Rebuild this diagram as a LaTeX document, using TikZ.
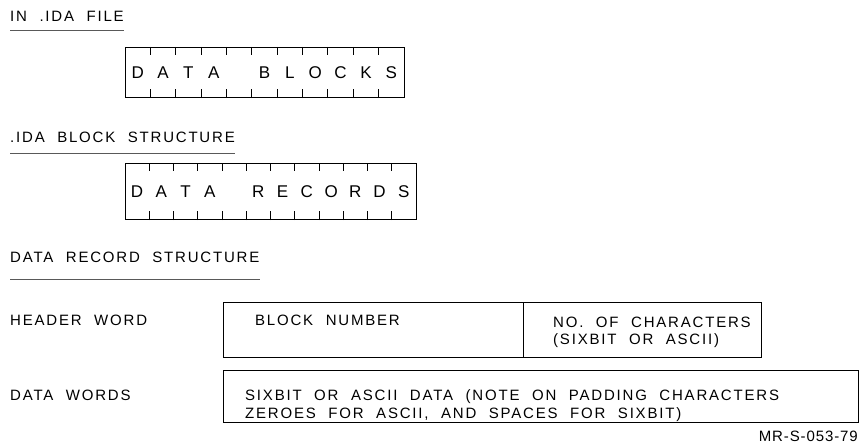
\documentclass[tikz,border=0pt]{standalone}
\usepackage{fontspec}
\setmainfont{Liberation Sans}[LetterSpace=12,WordSpace=2.1]
\newfontfamily\tagfont{Liberation Sans}[LetterSpace=6]
\usetikzlibrary{positioning}
\tikzset{title/.style = {anchor=base west, inner sep=0, font=\fontsize{15}{17}\selectfont}}
\tikzset{rule/.style = {draw=black!65, line width=0.6pt}}
\tikzset{cell/.style = {inner sep=0, font=\fontsize{17}{19}\selectfont}}
\tikzset{frame/.style = {draw, line width=1.1pt, inner sep=0, anchor=north west}}
\tikzset{tick/.style = {line width=1pt}}

\begin{document}
\begin{tikzpicture}[x=1pt, y=-1pt]
      \useasboundingbox (0, 0) rectangle (860, 444);
      % section titles
      \node [title] (filett) at (10, 22) {IN .IDA FILE};
      \node [title] (blktt) at (10, 142) {.IDA BLOCK STRUCTURE};
      \node [title] (rectt) at (10, 262) {DATA RECORD STRUCTURE};
      \draw [rule] ([yshift=-8pt]filett.base west) -- ([yshift=-8pt]filett.base east);
      \draw [rule] ([yshift=-11pt]blktt.base west) -- ([yshift=-11pt]blktt.base east);
      \draw [rule] ([yshift=-17pt]rectt.base west) -- ([yshift=-17pt]rectt.base east);

      % data blocks
      \node [frame, minimum width=279, minimum height=50] (blocks) at (125, 47) {};
      \foreach \i in {1,...,10} {
        \draw [tick] ([xshift=\i*25.36pt]blocks.north west) -- ++(0, 8);
        \draw [tick] ([xshift=\i*25.36pt]blocks.south west) -- ++(0, -9);
      }
      \foreach \c [count=\i] in {D,A,T,A,{},B,L,O,C,K,S}
        \node [cell] (bl\i) at ([xshift=(\i-0.5)*25.36pt]blocks.west) {\c};

      % data records
      \node [frame, minimum width=291, minimum height=56] (records) at (125, 163) {};
      \foreach \i in {1,...,11} {
        \draw [tick] ([xshift=\i*24.25pt]records.north west) -- ++(0, 8);
        \draw [tick] ([xshift=\i*24.25pt]records.south west) -- ++(0, -9);
      }
      \foreach \c [count=\i] in {D,A,T,A,{},R,E,C,O,R,D,S}
        \node [cell] (rc\i) at ([xshift=(\i-0.5)*24.25pt]records.west) {\c};

      % record words
      \node [title] (hdrlab) at (10, 325) {HEADER WORD};
      \node [title] (datlab) at (10, 400) {DATA WORDS};
      \node [frame, minimum width=300, minimum height=55] (blknum) at (223, 302) {};
      \node [frame, minimum width=238, minimum height=55] (nchar) at (523, 302) {};
      \node [frame, minimum width=635, minimum height=52] (datwd) at (223, 370) {};
      \node [title] (blktx) at (255, 325) {BLOCK NUMBER};
      \node [title] (nchtx) at (553, 327) {NO. OF CHARACTERS};
      \node [title] (nchty) at (553, 344) {(SIXBIT OR ASCII)};
      \node [title] (dattx) at (245, 400) {SIXBIT OR ASCII DATA (NOTE ON PADDING CHARACTERS};
      \node [title] (datty) at (245, 418) {ZEROES FOR ASCII, AND SPACES FOR SIXBIT)};

      \node [anchor=base east, inner sep=0, font=\tagfont\fontsize{15}{17}\selectfont] (tag) at (858, 441) {MR-S-053-79};
    \end{tikzpicture}
\end{document}
